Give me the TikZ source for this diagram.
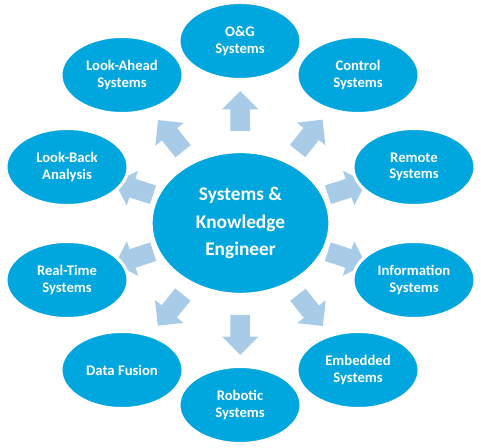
\documentclass[tikz,border=0pt]{standalone}
\usepackage{fontspec}
\setmainfont{Carlito}
\usetikzlibrary{calc, backgrounds, shapes.geometric, shapes.arrows}
\definecolor{ellblue}{RGB}{0,166,222}
\definecolor{arrblue}{RGB}{168,204,232}
\tikzset{
  leaf/.style={ellipse, draw=white, line width=2.25pt, fill=ellblue, text=white, align=center,
    font=\bfseries\fontsize{11}{12.5}\selectfont, minimum width=91.5pt, minimum height=57.75pt, inner sep=0pt},
  blk/.style={single arrow, fill=arrblue, draw=none, minimum height=30pt, minimum width=27pt,
    inner sep=7.125pt, single arrow head extend=6.375pt},
}
\begin{document}
\begin{tikzpicture}[x=0.75pt, y=0.75pt,
      hub/.style={ellipse, draw=white, line width=2.25pt, fill=ellblue, text=white, align=center,
        font=\bfseries\fontsize{14.5}{20.5}\selectfont, minimum width=134pt, minimum height=107pt, inner sep=0pt}]
    \useasboundingbox (0,0) rectangle (481,448);
    \node[hub] (hub) at (240.5,225) {Systems \&\\Knowledge\\Engineer};
    \node[leaf] (og) at (240,407) {O\&G\\Systems};
    \node[leaf] (ctrl) at (358,373) {Control\\Systems};
    \node[leaf] (remote) at (414,281) {Remote\\Systems};
    \node[leaf] (info) at (414,168) {Information\\Systems};
    \node[leaf] (emb) at (358,78) {Embedded\\Systems};
    \node[leaf] (robot) at (240,43) {Robotic\\Systems};
    \node[leaf] (fusion) at (122,78) {Data Fusion};
    \node[leaf] (realtime) at (67,168) {Real-Time\\Systems};
    \node[leaf] (lookback) at (67,281) {Look-Back\\Analysis};
    \node[leaf] (lookahead) at (122,373) {Look-Ahead\\Systems};
    \begin{scope}[on background layer]
      \foreach \k in {og,ctrl,remote,info,emb,robot,fusion,realtime,lookback,lookahead}
        \path let \p1 = ($(\k)-(hub)$), \n1 = {atan2(\y1,\x1)} in
          node[blk, rotate=\n1] (arr-\k) at ($(hub)!80.25pt!(\k)$) {};
    \end{scope}
  \end{tikzpicture}
\end{document}
